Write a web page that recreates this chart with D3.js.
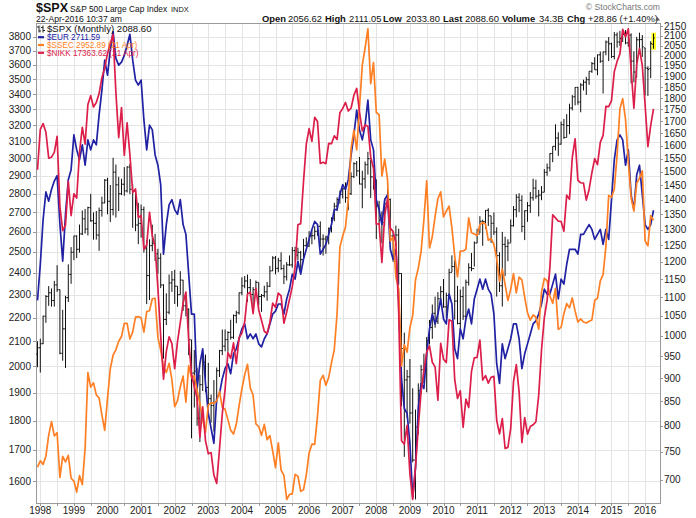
<!DOCTYPE html>
<html><head><meta charset="utf-8">
<script src="https://cdn.jsdelivr.net/npm/d3@7"></script>
<style>
body{margin:0;background:#fff}
svg{display:block}
text{font-family:"Liberation Sans",Arial,sans-serif}
</style>
</head><body>
<svg id="c" width="696" height="518"></svg>
<script>
// ---------- DATA (monthly, Dec 1997 .. Apr 2016) ----------
const yearLabels=['1998','1999','2000','2001','2002','2003','2004','2005','2006','2007','2008','2009','2010','2011','2012','2013','2014','2015','2016'];
const leftTicks=[1600,1700,1800,1900,2000,2100,2200,2300,2400,2500,2600,2700,2800,2900,3000,3100,3200,3300,3400,3500,3600,3700,3800];
const rightTicks=[700,750,800,850,900,950,1000,1050,1100,1150,1200,1250,1300,1350,1400,1450,1500,1550,1600,1650,1700,1750,1800,1850,1900,1950,2000,2050,2100,2150];

const spxClose=[970.43,
980.28,1049.34,1101.75,1111.75,1090.82,1133.84,1120.67,957.28,1017.01,1098.67,1163.63,1229.23,
1279.64,1238.33,1286.37,1335.18,1301.84,1372.71,1328.72,1320.41,1282.71,1362.93,1388.91,1469.25,
1394.46,1366.42,1498.58,1452.43,1420.60,1454.60,1430.83,1517.68,1436.51,1429.40,1314.95,1320.28,
1366.01,1239.94,1160.33,1249.46,1255.82,1224.42,1211.23,1133.58,1040.94,1059.78,1139.45,1148.08,
1130.20,1106.73,1147.39,1076.92,1067.14,989.82,911.62,916.07,815.28,885.76,936.31,879.82,
855.70,841.15,848.18,916.92,963.59,974.50,990.31,1008.01,995.97,1050.71,1058.20,1111.92,
1131.13,1144.94,1126.21,1107.30,1120.68,1140.84,1101.72,1104.24,1114.58,1130.20,1173.82,1211.92,
1181.27,1203.60,1180.59,1156.85,1191.50,1191.33,1234.18,1220.33,1228.81,1207.01,1249.48,1248.29,
1280.08,1280.66,1294.83,1310.61,1270.09,1270.20,1276.66,1303.82,1335.85,1377.94,1400.63,1418.30,
1438.24,1406.82,1420.86,1482.37,1530.62,1503.35,1455.27,1473.99,1526.75,1549.38,1481.14,1468.36,
1378.55,1330.63,1322.70,1385.59,1400.38,1280.00,1267.38,1282.83,1166.36,968.75,896.24,903.25,
825.88,735.09,797.87,872.81,919.14,919.32,987.48,1020.62,1057.08,1036.19,1095.63,1115.10,
1073.87,1104.49,1169.43,1186.69,1089.41,1030.71,1101.60,1049.33,1141.20,1183.26,1180.55,1257.64,
1286.12,1327.22,1325.83,1363.61,1345.20,1320.64,1292.28,1218.89,1131.42,1253.30,1246.96,1257.60,
1312.41,1365.68,1408.47,1397.91,1310.33,1362.16,1379.32,1406.58,1440.67,1412.16,1416.18,1426.19,
1498.11,1514.68,1569.19,1597.57,1630.74,1606.28,1685.73,1632.97,1681.55,1756.54,1805.81,1848.36,
1782.59,1859.45,1872.34,1883.95,1923.57,1960.23,1930.67,2003.37,1972.29,2018.05,2067.56,2058.90,
1994.99,2104.50,2067.89,2085.51,2107.39,2063.11,2103.84,1972.18,1920.03,2079.36,2080.41,2043.94,
1940.24,1932.23,2059.74,2088.60];

const spxOpen=[955.40,
970.43,980.28,1049.34,1101.75,1111.75,1090.82,1133.84,1120.67,957.28,1017.01,1098.67,1163.63,
1229.23,1279.64,1238.33,1286.37,1335.18,1301.84,1372.71,1328.72,1320.41,1282.71,1362.93,1388.91,
1469.25,1394.46,1366.42,1498.58,1452.43,1420.60,1454.60,1430.83,1517.68,1436.51,1429.40,1314.95,
1320.28,1366.01,1239.94,1160.33,1249.46,1255.82,1224.42,1211.23,1133.58,1040.94,1059.78,1139.45,
1148.08,1130.20,1106.73,1147.39,1076.92,1067.14,989.82,911.62,916.07,815.28,885.76,936.31,
879.82,855.70,841.15,848.18,916.92,963.59,974.50,990.31,1008.01,995.97,1050.71,1058.20,
1111.92,1131.13,1144.94,1126.21,1107.30,1120.68,1140.84,1101.72,1104.24,1114.58,1130.20,1173.82,
1211.92,1181.27,1203.60,1180.59,1156.85,1191.50,1191.33,1234.18,1220.33,1228.81,1207.01,1249.48,
1248.29,1280.08,1280.66,1294.83,1310.61,1270.09,1270.20,1276.66,1303.82,1335.85,1377.94,1400.63,
1418.30,1438.24,1406.82,1420.86,1482.37,1530.62,1503.35,1455.27,1473.99,1526.75,1549.38,1481.14,
1468.36,1378.55,1330.63,1322.70,1385.59,1400.38,1280.00,1267.38,1282.83,1166.36,968.75,896.24,
903.25,825.88,735.09,797.87,872.81,919.14,919.32,987.48,1020.62,1057.08,1036.19,1095.63,
1115.10,1073.87,1104.49,1169.43,1186.69,1089.41,1030.71,1101.60,1049.33,1141.20,1183.26,1180.55,
1257.64,1286.12,1327.22,1325.83,1363.61,1345.20,1320.64,1292.28,1218.89,1131.42,1253.30,1246.96,
1257.60,1312.41,1365.68,1408.47,1397.91,1310.33,1362.16,1379.32,1406.58,1440.67,1412.16,1416.18,
1426.19,1498.11,1514.68,1569.19,1597.57,1630.74,1606.28,1685.73,1632.97,1681.55,1756.54,1805.81,
1848.36,1782.59,1859.45,1872.34,1883.95,1923.57,1960.23,1930.67,2003.37,1972.29,2018.05,2067.56,
2058.90,1994.99,2104.50,2067.89,2085.51,2107.39,2063.11,2103.84,1972.18,1920.03,2079.36,2080.41,
2038.20,1936.94,1937.09,2056.62];

const spxHigh=[986.25,
992.65,1050.66,1105.65,1130.52,1123.95,1145.15,1190.58,1121.01,1066.11,1103.78,1192.97,1244.93,
1280.37,1281.82,1316.55,1362.80,1368.32,1375.98,1420.33,1356.85,1361.39,1373.17,1410.68,1473.00,
1478.00,1451.70,1552.87,1527.19,1481.51,1474.64,1517.32,1520.77,1530.09,1454.82,1433.34,1389.06,
1383.37,1376.38,1267.42,1269.30,1315.93,1286.62,1239.78,1226.27,1135.52,1110.61,1163.38,1173.62,
1176.97,1130.20,1173.03,1147.84,1106.59,1070.00,989.82,965.00,924.02,907.44,951.57,954.28,
935.05,864.64,895.90,924.24,965.38,1015.33,1015.41,1011.01,1040.29,1053.79,1063.65,1112.56,
1155.38,1158.98,1163.23,1150.57,1127.74,1146.18,1140.84,1108.60,1131.54,1142.05,1188.46,1217.33,
1217.90,1212.44,1229.11,1191.88,1199.56,1219.59,1245.15,1245.86,1243.13,1233.34,1270.64,1275.80,
1294.90,1297.57,1310.88,1318.16,1326.70,1284.89,1280.42,1306.74,1340.28,1389.45,1407.89,1431.81,
1441.61,1461.57,1438.89,1498.02,1535.56,1540.56,1555.90,1503.89,1538.74,1576.09,1545.79,1523.57,
1471.77,1396.02,1359.68,1404.57,1440.24,1404.05,1292.17,1313.15,1303.04,1167.03,1007.51,918.85,
943.85,877.86,832.98,888.70,930.17,956.23,996.68,1039.47,1080.15,1101.36,1113.69,1130.38,
1150.45,1112.42,1180.16,1219.80,1205.13,1131.23,1120.95,1129.24,1148.90,1196.14,1227.08,1262.60,
1302.67,1344.07,1332.28,1364.56,1370.58,1345.20,1356.48,1307.38,1229.29,1292.66,1277.55,1269.37,
1333.47,1378.04,1419.15,1422.38,1415.32,1363.46,1391.74,1426.68,1474.51,1470.96,1434.27,1448.00,
1509.94,1530.94,1570.28,1597.57,1687.18,1654.19,1698.78,1709.67,1729.86,1775.22,1813.55,1849.44,
1850.84,1867.92,1883.97,1897.28,1924.03,1968.17,1991.39,2005.04,2019.26,2018.19,2075.76,2093.55,
2064.43,2119.59,2117.52,2125.92,2134.72,2129.87,2132.82,2112.66,2020.86,2094.32,2116.48,2104.27,
2038.20,1947.20,2072.21,2111.05];

const spxLow=[924.92,
912.83,979.30,1032.20,1076.70,1074.67,1074.62,1114.30,955.00,939.98,923.32,1087.00,1136.89,
1205.46,1211.65,1228.00,1282.59,1287.48,1281.41,1325.76,1268.00,1268.37,1233.70,1342.47,1387.38,
1350.14,1325.07,1346.62,1339.40,1361.09,1416.00,1413.89,1425.00,1419.44,1305.79,1294.90,1254.07,
1274.62,1228.00,1081.19,1091.99,1232.00,1203.03,1165.54,1124.87,944.75,1026.76,1054.31,1114.53,
1081.66,1074.36,1106.73,1063.46,1048.96,952.92,775.68,837.02,800.20,768.63,872.05,869.45,
840.34,806.29,788.90,847.85,902.83,953.00,962.10,960.84,990.36,992.00,1031.20,1053.41,
1105.08,1124.44,1087.16,1101.00,1076.32,1113.32,1078.78,1060.72,1099.18,1090.19,1127.60,1173.37,
1163.75,1170.00,1176.92,1136.15,1146.18,1188.30,1183.55,1201.07,1205.35,1168.20,1201.07,1246.59,
1245.74,1253.61,1268.42,1280.74,1245.34,1219.29,1224.54,1253.58,1290.93,1327.10,1360.98,1385.93,
1403.97,1389.42,1363.98,1416.37,1476.70,1484.18,1454.25,1370.60,1439.29,1489.56,1406.10,1435.65,
1270.05,1316.75,1256.98,1312.00,1373.07,1272.00,1200.44,1247.45,1133.50,839.80,741.02,815.69,
804.47,731.10,666.79,783.32,866.10,888.86,869.32,978.51,992.25,1019.95,1029.38,1085.89,
1071.59,1044.50,1105.24,1170.69,1040.78,1028.33,1010.91,1039.70,1041.00,1131.87,1173.00,1186.60,
1257.62,1289.14,1249.05,1302.62,1311.80,1258.07,1282.86,1101.54,1114.22,1074.77,1158.66,1202.37,
1258.86,1310.00,1340.03,1357.38,1291.98,1266.74,1325.41,1354.65,1396.56,1403.28,1343.35,1398.11,
1426.19,1485.01,1501.48,1536.03,1581.28,1560.33,1604.57,1627.47,1633.41,1646.47,1746.20,1767.99,
1770.45,1737.92,1834.44,1814.36,1859.79,1915.98,1930.67,1904.78,1964.04,1820.66,2001.01,1972.56,
1988.12,1980.90,2039.69,2048.38,2067.93,2056.32,2044.02,1867.01,1871.91,1893.70,2019.39,1993.26,
1812.29,1810.10,1891.00,2033.80];

const eur=[2275,
2440,2663,2810,2760,2823,2870,2900,2640,2455,2690,2878,2934,
3140,3050,2992,3080,2960,3110,3050,3110,3080,3265,3427,3632,
3528,3703,3840,3645,3597,3618,3666,3740,3820,3632,3494,3460,
3494,3233,3050,3200,3171,3020,2960,2850,2489,2637,2740,2768,
2715,2690,2768,2637,2587,2394,2215,2215,1916,2011,2070,1935,
1825,1773,1722,1879,1897,1953,1992,2011,1972,2050,2070,2111,
2152,2173,2111,2131,2111,2131,2090,2078,2111,2131,2173,2215,
2228,2259,2259,2215,2281,2325,2394,2371,2455,2394,2465,2513,
2562,2612,2653,2637,2489,2513,2537,2587,2637,2715,2715,2795,
2850,2823,2878,3020,3140,3296,3171,3110,3200,3361,3110,3050,
2768,2715,2637,2768,2795,2513,2465,2513,2281,1953,1843,1825,
1722,1550,1641,1843,1935,1916,2050,2152,2215,2173,2215,2281,
2194,2173,2303,2259,2070,2031,2152,2111,2194,2237,2173,2281,
2325,2371,2325,2371,2325,2303,2215,2011,1935,2090,2031,2070,
2111,2173,2173,2111,1992,2050,2090,2131,2173,2186,2215,2259,
2325,2303,2303,2348,2394,2281,2371,2348,2440,2513,2513,2513,
2489,2587,2587,2612,2637,2612,2562,2587,2612,2537,2612,2562,
2768,2992,3110,3140,3110,2960,3050,2795,2715,2905,2960,2795,
2637,2612,2637,2711.59];

const ssec=[1194.10,
1222.32,1206.53,1243.14,1343.44,1411.15,1339.20,1355.11,1150.17,1242.09,1217.32,1247.29,1146.70,
1134.67,1090.08,1158.05,1120.25,1279.32,1689.42,1601.27,1627.04,1556.68,1539.18,1446.85,1366.58,
1534.99,1714.58,1800.22,1836.32,1894.55,1928.11,2023.54,2023.44,1910.16,1961.28,2070.61,2073.48,
2065.58,1959.18,2112.77,2119.18,2214.26,2218.03,1920.32,1834.13,1724.55,1690.41,1747.46,1645.97,
1491.04,1524.73,1603.35,1667.75,1515.73,1732.75,1657.24,1669.40,1581.66,1507.41,1421.21,1357.65,
1499.81,1511.93,1510.71,1521.44,1576.69,1486.82,1476.74,1421.66,1367.16,1348.30,1397.22,1497.04,
1590.73,1675.07,1741.62,1595.59,1555.91,1399.16,1386.20,1342.06,1396.70,1320.54,1340.77,1266.50,
1191.82,1306.00,1181.24,1159.15,1060.74,1080.94,1083.03,1162.80,1155.61,1092.82,1099.26,1161.06,
1258.05,1299.03,1298.30,1440.22,1641.30,1672.21,1612.73,1658.64,1752.42,1837.99,2099.29,2675.47,
2786.34,2881.07,3183.98,3841.27,4109.65,3820.70,4471.03,5218.83,5552.30,5954.77,4871.78,5261.56,
4383.39,4348.54,3472.71,3693.11,3433.35,2736.10,2775.72,2397.37,2293.78,1728.79,1871.16,1820.81,
1990.66,2082.85,2373.21,2477.57,2632.93,2959.36,3412.06,2667.74,2779.43,2995.85,3195.30,3277.14,
2989.29,3051.94,3109.10,2870.61,2592.15,2398.37,2637.50,2638.80,2655.66,2978.84,2820.18,2808.08,
2790.69,2905.05,2928.11,2911.51,2743.47,2762.08,2701.73,2567.34,2359.22,2468.25,2333.41,2199.42,
2292.61,2428.49,2262.79,2396.32,2372.23,2225.43,2103.63,2047.52,2086.17,2068.88,1980.12,2269.13,
2385.42,2365.59,2236.62,2177.91,2300.59,1979.21,1993.80,2098.38,2174.67,2141.61,2220.50,2115.98,
2033.08,2056.30,2033.31,2026.36,2039.21,2048.33,2201.56,2217.20,2363.87,2420.18,2682.83,3234.68,
3210.36,3310.30,3747.90,4441.65,4611.74,4277.22,3663.73,3205.99,3052.78,3382.56,3445.40,3539.18,
2737.60,2687.98,3003.92,2952.89];

const nikk=[15258.74,
16628.47,16831.67,16527.17,15641.26,15670.78,15830.27,16378.97,14107.89,13406.39,13564.51,14883.70,13842.17,
14499.25,14367.54,15836.59,16701.53,16111.65,17529.74,17861.86,17436.56,17605.46,17942.08,18558.23,18934.34,
19539.70,19959.52,20337.32,17973.70,16332.45,17411.05,15727.49,16861.26,15747.26,14539.60,14648.51,13785.69,
13843.55,12883.54,12999.70,13934.32,13262.14,12969.05,11860.77,10713.51,9774.68,10366.34,10697.44,10542.62,
9997.80,10587.83,11024.94,11492.54,11763.70,10621.84,9877.94,9619.30,9383.29,8640.48,9215.56,8578.95,
8339.94,8363.04,7972.71,7831.42,8424.51,9083.11,9563.21,10343.55,10219.05,10559.59,10100.57,10676.64,
10783.61,11041.92,11715.39,11761.79,11236.37,11858.87,11325.78,11081.79,10823.57,10771.42,11030.51,11488.76,
11387.59,11740.60,11668.95,11008.90,11276.59,11584.01,11899.60,12413.60,13574.30,13606.50,14872.15,16111.43,
16649.82,16205.43,17059.66,16906.23,15467.33,15505.18,15456.81,16140.76,16127.58,16399.39,16274.33,17225.83,
17383.42,17604.12,17287.65,17400.41,17875.75,18138.36,17248.89,16569.09,16785.69,16737.63,15680.67,15307.78,
13592.47,13603.02,12525.54,13849.99,14338.54,13481.38,13376.81,13072.87,11259.86,8576.98,8512.27,8859.56,
7994.05,7568.42,8109.53,8828.26,9522.50,9958.44,10356.83,10492.53,10133.23,10034.74,9345.55,10546.44,
10198.04,10126.03,11089.94,11057.40,9768.70,9382.64,9537.30,8824.06,9369.35,9202.45,9937.04,10228.92,
10237.92,10624.09,9755.10,9849.74,9693.73,9816.09,9833.03,8955.20,8700.29,8988.39,8434.61,8455.35,
8802.51,9723.24,10083.56,9520.89,8542.73,9006.78,8695.06,8839.91,8870.16,8928.29,9446.01,10395.18,
11138.66,11559.36,12397.91,13860.86,13774.54,13677.32,13668.32,13388.86,14455.80,14327.94,15661.87,16291.31,
14914.53,14841.07,14827.83,14304.11,14632.38,15162.10,15620.77,15424.59,16173.52,16413.76,17459.85,17450.77,
17674.39,18797.94,19206.99,19520.01,20563.15,20235.73,20585.24,18890.48,17388.15,19083.10,19747.47,19033.71,
17518.30,16026.76,16758.67,17363.62];

// ---------- CHART ----------
const svg=d3.select('#c');
const P={l:36,r:660,t:23,b:503};
const n=spxClose.length;
const x=d3.scaleLinear().domain([0,n-1]).range([37.5,653.5]);
const yR=d3.scaleLog().domain([661,2167.6]).range([P.b,P.t]);
const yL=d3.scaleLog().domain([1533,3905]).range([P.b,P.t]);
const yS=d3.scaleLog().domain(d3.extent(ssec)).range([499.5,28.9]);
const yN=d3.scaleLog().domain(d3.extent(nikk)).range([499.5,28.9]);
const snap=v=>Math.round(v)+0.5;

svg.append('rect').attr('width',696).attr('height',518).attr('fill','#fff');

// grid
const grid=svg.append('g').attr('stroke','#e4e4e4').attr('stroke-width',1);
leftTicks.forEach(v=>{const y=snap(yL(v));
  grid.append('line').attr('x1',P.l).attr('x2',P.r).attr('y1',y).attr('y2',y);});
const vIdx=[];
yearLabels.forEach((lab,i)=>{const j=1+12*i; vIdx.push(j); if(j+6<n) vIdx.push(j+6);});
vIdx.forEach(j=>{const xx=snap(x(j));
  grid.append('line').attr('x1',xx).attr('x2',xx).attr('y1',P.t).attr('y2',P.b);});

// frame
svg.append('rect').attr('x',P.l+0.5).attr('y',P.t+0.5).attr('width',P.r-P.l).attr('height',P.b-P.t)
  .attr('fill','none').attr('stroke','#9a9a9a');

// axes ticks + labels
const ax=svg.append('g').attr('stroke','#9a9a9a');
leftTicks.forEach(v=>{const y=snap(yL(v));
  ax.append('line').attr('x1',P.l-3).attr('x2',P.l).attr('y1',y).attr('y2',y);});
rightTicks.forEach(v=>{const y=snap(yR(v));
  ax.append('line').attr('x1',P.r).attr('x2',P.r+3).attr('y1',y).attr('y2',y);});
vIdx.forEach(j=>{const xx=snap(x(j));
  ax.append('line').attr('x1',xx).attr('x2',xx).attr('y1',P.b).attr('y2',P.b+3);});

const lab=svg.append('g').attr('font-size',10).attr('fill','#222');
leftTicks.forEach(v=>lab.append('text').attr('x',31).attr('y',yL(v)+3.5).attr('text-anchor','end').text(v));
rightTicks.forEach(v=>lab.append('text').attr('x',664).attr('y',yR(v)+3.5).text(v));
yearLabels.forEach((t,i)=>lab.append('text').attr('x',x(1+12*i)).attr('y',514).attr('text-anchor','middle').text(t));

// SPX OHLC bars
let bp='';
spxClose.forEach((c,i)=>{const xi=x(i);
  bp+=`M${xi},${yR(spxHigh[i])}V${yR(spxLow[i])}M${xi-1.3},${yR(spxOpen[i])}H${xi}M${xi},${yR(c)}H${xi+1.3}`;});
const li=n-1;
svg.append('rect').attr('x',x(li)-2).attr('y',yR(spxHigh[li])-1).attr('width',4.5)
  .attr('height',yR(spxLow[li])-yR(spxHigh[li])+2).attr('fill','#ffff20');
svg.append('path').attr('d',bp).attr('stroke','#111').attr('stroke-width',1).attr('fill','none');

// overlays
const mk=(data,ys,col)=>svg.append('path').attr('d',d3.line().x((d,i)=>x(i)).y(d=>ys(d))(data))
  .attr('fill','none').attr('stroke',col).attr('stroke-width',1.7).attr('stroke-linejoin','round');
mk(eur,yL,'#2121a3');
mk(ssec,yS,'#ff7f24');
mk(nikk,yN,'#dc1e4a');

// legend
const lg=svg.append('g');
lg.append('path').attr('d','M39,25.5V32.5M37,27H39M39,31H41M43,25.5V32.5M41,27.5H43M43,30.5H45')
  .attr('stroke','#222').attr('fill','none').attr('stroke-width',1);
lg.append('text').attr('x',47).attr('y',32.2).attr('font-size',9.6).attr('fill','#111').text('$SPX (Monthly) 2088.60');
const legRows=[['$EUR 2711.59','#2121a3',37.2],['$SSEC 2952.89 (21 Apr)','#ff7f24',45],['$NIKK 17363.62 (21 Apr)','#dc1e4a',52.8]];
legRows.forEach(r=>{
  lg.append('line').attr('x1',38).attr('x2',44).attr('y1',r[2]).attr('y2',r[2]).attr('stroke',r[1]).attr('stroke-width',2.2);
  lg.append('text').attr('x',47).attr('y',r[2]+2.9).attr('font-size',8.2).attr('fill',r[1]).text(r[0]);
});

// header
svg.append('text').attr('x',36).attr('y',12).attr('font-size',12.5).attr('font-weight','bold').attr('fill','#111').text('$SPX');
svg.append('text').attr('x',70).attr('y',11.5).attr('font-size',8.4).attr('fill','#111').text('S&P 500 Large Cap Index');
svg.append('text').attr('x',171).attr('y',11.5).attr('font-size',7.4).attr('fill','#111').text('INDX');
svg.append('text').attr('x',36).attr('y',21.5).attr('font-size',8.6).attr('fill','#111').text('22-Apr-2016 10:37 am');
svg.append('text').attr('x',660).attr('y',10).attr('text-anchor','end').attr('font-size',8.6).attr('fill','#777').text('© StockCharts.com');
const hd=[['Open',262,true],['2056.62',288,false],['High',325,true],['2111.05',349,false],['Low',383,true],['2033.80',406,false],
  ['Last',443,true],['2088.60',465,false],['Volume',502,true],['34.3B',539,false],['Chg',567,true],['+28.86 (+1.40%)',588,false]];
hd.forEach(h=>svg.append('text').attr('x',h[1]).attr('y',21.5).attr('font-size',9.4)
  .attr('font-weight',h[2]?'bold':'normal').attr('fill','#111').text(h[0]));
svg.append('path').attr('d','M655,20.5L657.5,17L660,20.5Z').attr('fill','#555');
</script>
</body></html>
